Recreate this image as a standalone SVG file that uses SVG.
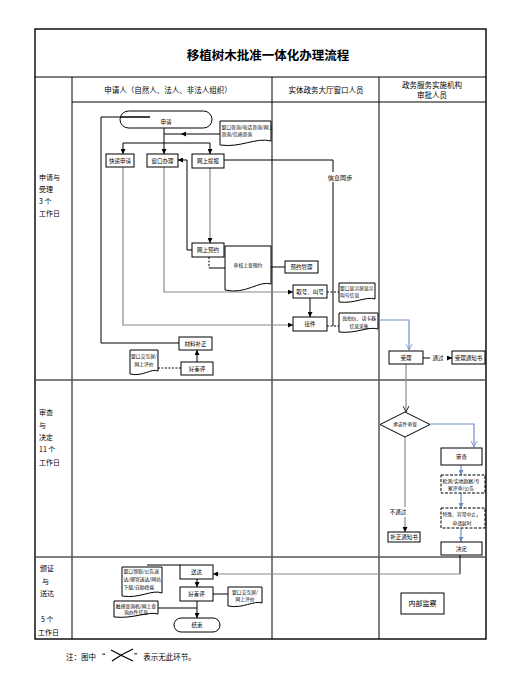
<svg xmlns="http://www.w3.org/2000/svg" width="505" height="675" viewBox="0 0 505 675">
<style>
text{font-family:"Noto Sans CJK SC","Noto Sans",sans-serif;fill:#000}
.t{font-size:5.5px;text-anchor:middle}
.s{font-size:4.8px}
.sm{font-size:4.8px;text-anchor:middle}
.b{fill:#fff;stroke:#000;stroke-width:1}
.d{fill:#fff;stroke:#000;stroke-width:1;stroke-dasharray:3,1.5}
.k{fill:none;stroke:#000;stroke-width:1}
.g{fill:none;stroke:#8a8a8a;stroke-width:1.2}
.bl{fill:none;stroke:#7390c6;stroke-width:1.2}
.ds{fill:none;stroke:#000;stroke-width:1;stroke-dasharray:2,1.5}
.grid{fill:none;stroke:#000;stroke-width:1}
.lane{font-size:7px}
.hd{font-size:7.5px;text-anchor:middle}
</style>
<defs>
<marker id="af" viewBox="0 0 10 10" refX="10" refY="5" markerWidth="5" markerHeight="5" orient="auto" markerUnits="userSpaceOnUse"><path d="M0,0 L10,5 L0,10 Z" fill="#000"/></marker>
<marker id="abf" viewBox="0 0 10 10" refX="10" refY="5" markerWidth="5" markerHeight="5" orient="auto" markerUnits="userSpaceOnUse"><path d="M0,0 L10,5 L0,10 Z" fill="#6d8cc4"/></marker>
<marker id="ao" viewBox="0 0 10 10" refX="9" refY="5" markerWidth="7" markerHeight="7" orient="auto" markerUnits="userSpaceOnUse"><path d="M0,0.5 L9,5 L0,9.5" fill="none" stroke="#000" stroke-width="1.2"/></marker>
<marker id="abo" viewBox="0 0 10 10" refX="9" refY="5" markerWidth="7" markerHeight="7" orient="auto" markerUnits="userSpaceOnUse"><path d="M0,0.5 L9,5 L0,9.5" fill="none" stroke="#7390c6" stroke-width="1.2"/></marker>
</defs>
<rect width="505" height="675" fill="#fff"/>

<g id="table">
<rect x="35" y="29" width="451" height="610" fill="none" stroke="#000" stroke-width="1.4"/>
<line class="grid" x1="35" y1="77" x2="486" y2="77"/>
<line class="grid" x1="72" y1="102" x2="486" y2="102" stroke="#666"/>
<line class="grid" x1="72" y1="77" x2="72" y2="639"/>
<line class="grid" x1="272" y1="77" x2="272" y2="639"/>
<line class="grid" x1="379" y1="77" x2="379" y2="639"/>
<line x1="35" y1="380" x2="486" y2="380" stroke="#555" stroke-width="1.3"/>
<line x1="35" y1="557" x2="486" y2="557" stroke="#555" stroke-width="1.3"/>
<text x="268" y="60" font-size="12.5" font-weight="bold" text-anchor="middle">移植树木批准一体化办理流程</text>
<text class="hd" x="168" y="93">申请人（自然人、法人、非法人组织）</text>
<text class="hd" x="326" y="93">实体政务大厅窗口人员</text>
<text class="hd" x="432" y="88">政务服务实施机构</text>
<text class="hd" x="432" y="98">审批人员</text>
<text class="lane" x="39" y="180">申请与</text>
<text class="lane" x="39" y="192">受理</text>
<text class="lane" x="39" y="204">3 个</text>
<text class="lane" x="39" y="216">工作日</text>
<text class="lane" x="39" y="415">审查</text>
<text class="lane" x="39" y="428">与</text>
<text class="lane" x="39" y="440">决定</text>
<text class="lane" x="39" y="452">11 个</text>
<text class="lane" x="39" y="465">工作日</text>
<text class="lane" x="40" y="571">颁证</text>
<text class="lane" x="42" y="584">与</text>
<text class="lane" x="40" y="596">送达</text>
<text class="lane" x="41" y="622">5 个</text>
<text class="lane" x="38" y="635">工作日</text>
</g>

<g id="connectors">
<path class="k" d="M150,117 H101 V343 H179"/>
<path class="k" d="M164,128 V154" marker-end="url(#af)"/>
<path class="k" d="M123,143 H210"/>
<path class="k" d="M123,143 V154" marker-end="url(#af)"/>
<path class="k" d="M210,143 V154" marker-end="url(#af)"/>
<path class="k" d="M220,134 H181" marker-end="url(#af)"/>
<path class="k" d="M181,134 H164"/>
<path class="k" d="M192,250 H187 V160 H178" marker-end="url(#af)"/>
<path class="k" d="M224,160 H333 V326"/>
<path class="g" d="M210,168 V243" marker-end="url(#af)"/>
<path class="ds" d="M209,257 V268"/>
<path class="k" d="M209,268 H233"/>
<path class="k" d="M271,267 H285"/>
<path class="g" d="M164,167 V292 H293" marker-end="url(#af)"/>
<path class="g" d="M123,167 V325 H293" marker-end="url(#af)"/>
<path class="k" d="M310,298 V317" marker-end="url(#af)"/>
<path class="ds" d="M327,292 H339"/>
<path class="ds" d="M327,326 H339"/>
<path class="bl" d="M378,320 H409 V350" marker-end="url(#abo)"/>
<path class="k" d="M423,358 H452" marker-end="url(#af)"/>
<path class="g" d="M406,364 V412" marker-end="url(#ao)" stroke="#777"/>
<path class="bl" d="M430,424 H474 V447" marker-end="url(#abo)"/>
<path class="bl" d="M461,465 V475" marker-end="url(#abf)"/>
<path class="bl" d="M461,493 V508" marker-end="url(#abf)"/>
<path class="bl" d="M461,528 V542" marker-end="url(#abf)"/>
<path class="g" d="M405,437 V532" marker-end="url(#af)" stroke="#777"/>
<path class="k" d="M460,555 V574"/>
<path class="g" d="M460,574 H213" marker-end="url(#af)"/>
<path class="k" d="M197,579 V587" marker-end="url(#af)"/>
<path class="k" d="M197,601 V618" marker-end="url(#af)"/>
<path class="k" d="M213,594 H228"/>
<path class="k" d="M158,608 H197"/>
<path class="k" d="M147,565 H180"/>
<path class="k" d="M197,362 V350" marker-end="url(#af)"/>
<path class="ds" d="M158,368 H181"/>
<rect x="327" y="172" width="26" height="10" fill="#fff"/>
<text x="340" y="179.5" font-size="6.2" text-anchor="middle">信息同步</text>
<rect x="430" y="353" width="17" height="9" fill="#fff"/>
<text class="t" x="438" y="359.5">通过</text>
<rect x="388" y="507" width="20" height="10" fill="#fff"/>
<text class="t" x="398" y="514">不通过</text>
</g>

<g id="n-apply"><rect class="b" x="120" y="111" width="92" height="17" rx="8.5" fill-opacity="0"/><path class="k" d="M150,117 H120"/><text class="t" x="166" y="123.5">申请</text></g>
<g id="n-consult"><path class="b" d="M220,121 H271 V141 C256,137 241,148 220,145 Z"/><text class="s" x="221.5" y="129">窗口咨询/电话咨询/网上</text><text class="s" x="221.5" y="136">咨询/信函咨询</text></g>
<g id="n-express"><rect class="b" x="106" y="154" width="28" height="13"/><text class="t" x="120" y="162.5">快递申请</text></g>
<g id="n-window"><rect class="b" x="147" y="154" width="31" height="13"/><text class="t" x="162.5" y="162.5">窗口办理</text></g>
<g id="n-online"><rect class="b" x="192" y="154" width="32" height="14"/><text class="t" x="208" y="163">网上提报</text></g>
<g id="n-reserve"><rect class="b" x="192" y="243" width="32" height="14"/><text class="t" x="208" y="252">网上预约</text></g>
<g id="n-resdoc"><path class="b" d="M225,246 H271 V284 C259,280 246,295 225,290 Z"/><text class="sm" x="248" y="267">审核上查预约</text></g>
<g id="n-resmgr"><rect class="b" x="285" y="261" width="33" height="12"/><text class="t" x="301.5" y="269">预约管理</text></g>
<g id="n-ticket"><rect class="b" x="293" y="285" width="34" height="13"/><text class="t" x="310" y="293.5">取号、叫号</text></g>
<g id="n-screen"><path class="b" d="M339,283 H375 V299 C366,296 355,304 339,302 Z"/><text class="s" x="340" y="290">窗口显示屏显示</text><text class="s" x="340" y="297">叫号信息</text></g>
<g id="n-receive"><rect class="b" x="293" y="317" width="34" height="14"/><text class="t" x="310" y="326">接件</text></g>
<g id="n-scan"><path class="b" d="M339,313 H378 V329 C368,326 356,334 339,332 Z"/><text class="sm" x="359" y="320">高拍仪、读卡器</text><text class="sm" x="359" y="327.5">信息采集</text></g>
<g id="n-supp"><rect class="b" x="179" y="337" width="33" height="13"/><text class="t" x="195.5" y="345.5">材料补正</text></g>
<g id="n-eval1doc"><path class="b" d="M130,350 H158 V371 C151,368 143,377 130,374 Z"/><text class="sm" x="144" y="358">窗口交互屏/</text><text class="sm" x="144" y="365.5">网上评价</text></g>
<g id="n-eval1"><rect class="b" x="181" y="362" width="32" height="13"/><text class="t" x="197" y="370.5">好差评</text></g>
<g id="n-accept"><rect class="b" x="389" y="351" width="34" height="13"/><text class="t" x="406" y="359.5">受理</text></g>
<g id="n-notice"><rect class="b" x="452" y="351" width="33" height="13"/><text class="t" x="468.5" y="359.5">受理通知书</text></g>
<g id="n-diamond"><path class="b" d="M405,412 L430,424.5 L405,437 L380,424.5 Z"/><text class="sm" x="405" y="426.3">承诺件审查</text></g>
<g id="n-review"><rect class="b" x="441" y="448" width="41" height="17"/><text class="t" x="461.5" y="458.5">审查</text></g>
<g id="n-inspect"><rect class="d" x="441" y="475" width="44" height="18"/><text class="s" x="442.5" y="482.5">检测/实地勘察/专</text><text class="sm" x="461" y="490">家评审/公告</text></g>
<g id="n-suspend"><rect class="d" x="441" y="508" width="44" height="20"/><text class="s" x="442.5" y="515.5">特殊、异常中止，</text><text class="sm" x="462" y="525">申请延时</text></g>
<g id="n-decide"><rect class="b" x="441" y="542" width="41" height="13"/><text class="t" x="461.5" y="550.5">决定</text></g>
<g id="n-suppnotice"><rect class="b" x="388" y="532" width="32" height="10"/><text class="t" x="404" y="539">补正通知书</text></g>
<g id="n-deliverdoc"><path class="b" d="M122,567 H162 V593 C152,589 140,599 122,596 Z"/><text class="s" x="123.5" y="573">窗口领取/公告送</text><text class="s" x="123.5" y="581">达/邮寄送达/网站</text><text class="s" x="123.5" y="589">下载/自助终端</text></g>
<g id="n-deliver"><rect class="b" x="180" y="565" width="33" height="14"/><text class="t" x="196.5" y="574">送达</text></g>
<g id="n-eval2"><rect class="b" x="180" y="587" width="33" height="14"/><text class="t" x="196.5" y="596">好差评</text></g>
<g id="n-eval2doc"><path class="b" d="M228,587 H262 V603 C254,600 243,609 228,606 Z"/><text class="sm" x="245" y="594">窗口交互屏/</text><text class="sm" x="245" y="601">网上评价</text></g>
<g id="n-query"><path class="b" d="M114,601 H158 V614 C148,611 134,619 114,617 Z"/><text class="sm" x="136" y="607.5">触摸查询机/网上查</text><text class="sm" x="136" y="614">询办件信息</text></g>
<g id="n-end"><rect class="b" x="174" y="618" width="46" height="14" rx="7"/><text class="t" x="197" y="627">结束</text></g>
<g id="n-monitor"><rect class="b" x="401" y="593" width="43" height="21"/><text x="422.5" y="606" font-size="7" text-anchor="middle">内部监察</text></g>

<g id="footnote">
<text x="66" y="660" font-size="7.5">注：图中 “</text>
<path d="M111,650 Q122,656 133,661 M112,661 Q122,654 133,649" fill="none" stroke="#000" stroke-width="1.3"/>
<text x="134" y="660" font-size="7.5">” 表示无此环节。</text>
</g>
</svg>
